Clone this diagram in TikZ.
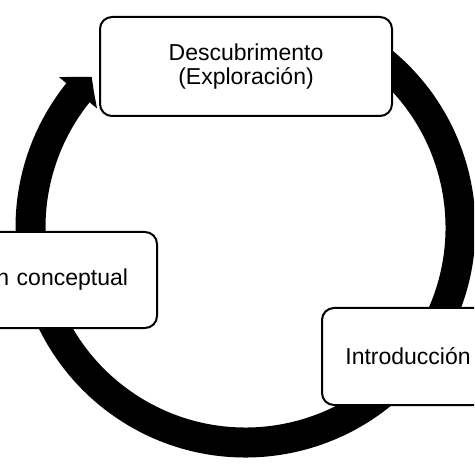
\documentclass[tikz,border=0pt]{standalone}
\usepackage{fontspec}
\setmainfont{Liberation Sans}
\usetikzlibrary{arrows.meta,bending,calc}

\begin{document}
\begin{tikzpicture}[x=0.5pt,y=0.5pt]
\tikzset{fase/.style={draw,rounded corners=6pt,line width=1pt,fill=white,align=center,inner sep=0pt,font=\fontsize{11.5}{11.8}\selectfont}}
\tikzset{flecha/.style={line width=15pt,-{Triangle[length=10.5pt,width=24pt,bend]}}}
\clip (0,0) rectangle (474,-474);
\coordinate (c) at (245.5,-227.5);
\draw[flecha] ($(c)+(55:215)$) arc[start angle=55,end angle=-224.4,radius=215];
\node[fase,minimum width=146pt,minimum height=49.5pt] (desc) at (246,-66.5) {Descubrimento\\(Exploración)};
\node[fase,minimum width=118.5pt,minimum height=48pt,text width=89.5pt,inner xsep=14.5pt,align=right] (conc) at (38.5,-280) {n conceptual};
\node[fase,minimum width=86pt,minimum height=48.5pt] (intro) at (408,-356.5) {Introducción};
\end{tikzpicture}
\end{document}
